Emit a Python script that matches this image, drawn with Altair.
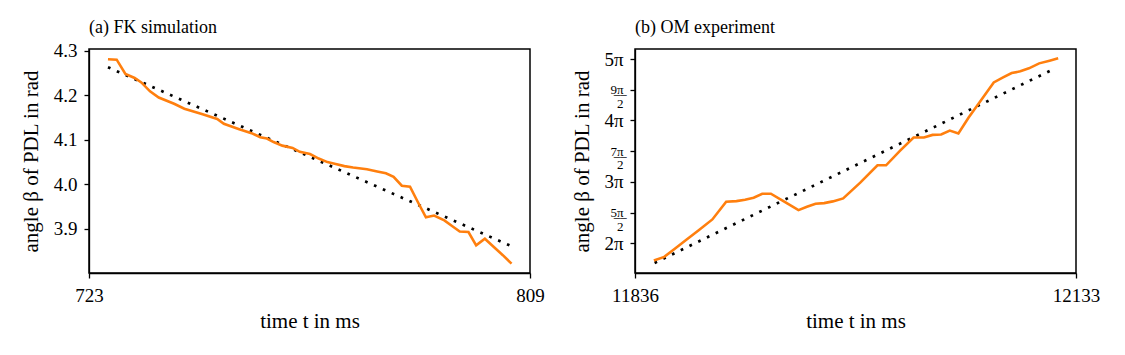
import altair as alt
import pandas as pd

# ---------- panel (a): FK simulation ----------
fk_t = [726.7, 728.4, 730.1, 731.9, 733.2, 734.9, 736.6, 739.6, 741.6, 745.0,
        748.0, 749.3, 752.3, 754.7, 756.4, 757.7, 759.0, 760.7, 762.7, 764.1,
        766.1, 767.8, 769.5, 771.1, 772.8, 774.5, 777.2, 779.2, 780.9, 782.4,
        784.0, 785.6, 787.1, 788.7, 790.3, 792.3, 794.0, 795.3, 797.0, 798.5,
        800.2, 802.0, 803.7, 805.4]
fk_beta = [4.281, 4.280, 4.248, 4.239, 4.229, 4.209, 4.195, 4.181, 4.170, 4.158,
           4.147, 4.136, 4.124, 4.115, 4.106, 4.103, 4.095, 4.087, 4.082, 4.073,
           4.068, 4.058, 4.050, 4.046, 4.041, 4.038, 4.034, 4.029, 4.025, 4.017,
           3.997, 3.995, 3.961, 3.926, 3.930, 3.919, 3.905, 3.894, 3.893, 3.863,
           3.878, 3.859, 3.841, 3.822]
fk_fit_t = [726.7, 805.4]
fk_fit_beta = [4.263, 3.861]
fk_xdomain = [723, 809]
fk_ydomain = [3.801, 4.304]
fk_xticks = [723, 809]
fk_yticks = [3.9, 4.0, 4.1, 4.2, 4.3]

# ---------- panel (b): OM experiment ----------
om_t = [11848.7, 11855.7, 11862.6, 11870.8, 11878.9, 11888.1, 11897.4, 11904.3,
        11910.1, 11915.9, 11921.7, 11927.5, 11936.8, 11946.1, 11951.8, 11957.6,
        11963.4, 11969.2, 11976.2, 11987.7, 11999.3, 12005.1, 12014.4, 12023.6,
        12030.6, 12036.4, 12042.2, 12048.0, 12053.8, 12060.7, 12068.8, 12077.6,
        12083.9, 12089.7, 12095.5, 12101.3, 12108.2, 12115.2, 12121.0]
om_beta = [5.394, 5.583, 5.991, 6.472, 6.949, 7.499, 8.404, 8.438,
           8.507, 8.611, 8.815, 8.815, 8.404, 7.976, 8.149, 8.303,
           8.335, 8.423, 8.577, 9.381, 10.270, 10.270, 11.005, 11.690,
           11.690, 11.825, 11.844, 12.048, 11.894, 12.714, 13.569, 14.511,
           14.769, 14.989, 15.077, 15.230, 15.485, 15.623, 15.742]
om_fit_t = [11849.2, 12118.0]
om_fit_beta = [5.275, 15.196]
om_xdomain = [11836, 12133]
om_ydomain = [4.759, 16.220]
om_xticks = [11836, 12133]
om_yticks = [6.2832, 7.8540, 9.4248, 10.9956, 12.5664, 14.1372, 15.7080]
NB = "\u00a0"
UL = "\u0332"
om_ylabels = ["2π", ["5" + UL + "π" + UL, "2" + NB], "3π", ["7" + UL + "π" + UL, "2" + NB],
              "4π", ["9" + UL + "π" + UL, "2" + NB], "5π"]

FONT = "Liberation Serif"
ORANGE = "#ff7f0e"


def label_expr(values, labels):
    parts = []
    for v, lab in zip(values, labels):
        if isinstance(lab, list):
            s = "[" + ", ".join("'" + x + "'" for x in lab) + "]"
        else:
            s = "'" + lab + "'"
        parts.append((v, s))
    expr = "''"
    for v, s in reversed(parts):
        expr = f"(abs(datum.value - {v}) < 0.01) ? {s} : ({expr})"
    return expr


def panel(t, beta, fit_t, fit_beta, xdom, ydom, xticks, yticks, title,
          ylabel_expr=None, yfmt=None, extent=41, title_offset=5):
    df = pd.DataFrame({"t": t, "beta": beta})
    fit = pd.DataFrame({"t": fit_t, "beta": fit_beta})
    xaxis = alt.Axis(values=xticks, format="d", title="time t in ms",
                     grid=False, labelFlush=False, labelOverlap=False)
    yargs = dict(values=yticks, title="angle β of PDL in rad", grid=False,
                 minExtent=extent, maxExtent=extent, labelOverlap=False)
    if ylabel_expr is not None:
        yargs["labelExpr"] = ylabel_expr
        yargs["labelFontSize"] = {
            "condition": {"test": "abs(round(datum.value*2/PI) % 2) == 1", "value": 13},
            "value": 19}
        yargs["labelLineHeight"] = 13.5
    else:
        yargs["format"] = yfmt
    yaxis = alt.Axis(**yargs)
    xs = alt.Scale(domain=xdom, nice=False, zero=False)
    ys = alt.Scale(domain=ydom, nice=False, zero=False)
    dotted = alt.Chart(fit).mark_line(
        color="black", strokeWidth=2.7, strokeDash=[2.7, 7], strokeCap="butt", clip=True
    ).encode(x=alt.X("t:Q", scale=xs, axis=xaxis), y=alt.Y("beta:Q", scale=ys, axis=yaxis))
    line = alt.Chart(df).mark_line(color=ORANGE, strokeWidth=2.6, clip=True).encode(
        x=alt.X("t:Q", scale=xs, axis=xaxis), y=alt.Y("beta:Q", scale=ys, axis=yaxis))
    return alt.layer(dotted, line).properties(
        width=441, height=224,
        title=alt.TitleParams(title, anchor="start", frame="group", fontSize=18,
                              font=FONT, fontWeight="normal", color="black",
                              offset=title_offset))


left = panel(fk_t, fk_beta, fk_fit_t, fk_fit_beta, fk_xdomain, fk_ydomain,
             fk_xticks, fk_yticks, "(a) FK simulation", yfmt=".1f", extent=41,
             title_offset=5)
right = panel(om_t, om_beta, om_fit_t, om_fit_beta, om_xdomain, om_ydomain,
              om_xticks, om_yticks, "(b) OM experiment",
              ylabel_expr=label_expr(om_yticks, om_ylabels), extent=36,
              title_offset=12)

chart = alt.hconcat(left, right, spacing=25).properties(
    padding={"left": 11, "top": 10, "right": 5, "bottom": 5}
).configure_view(stroke="black", strokeWidth=1.5).configure_axis(
    domainColor="black", domainWidth=1.3, tickColor="black", tickWidth=1.3,
    tickSize=5, labelPadding=7, labelFont=FONT, labelFontSize=19,
    labelColor="black", titleFont=FONT, titleFontSize=21, titleFontWeight="normal",
    titleColor="black", titlePadding=7
).configure_axisX(labelPadding=8, titlePadding=5)

chart.save("out.html", embed_options={"renderer": "svg", "actions": False})
